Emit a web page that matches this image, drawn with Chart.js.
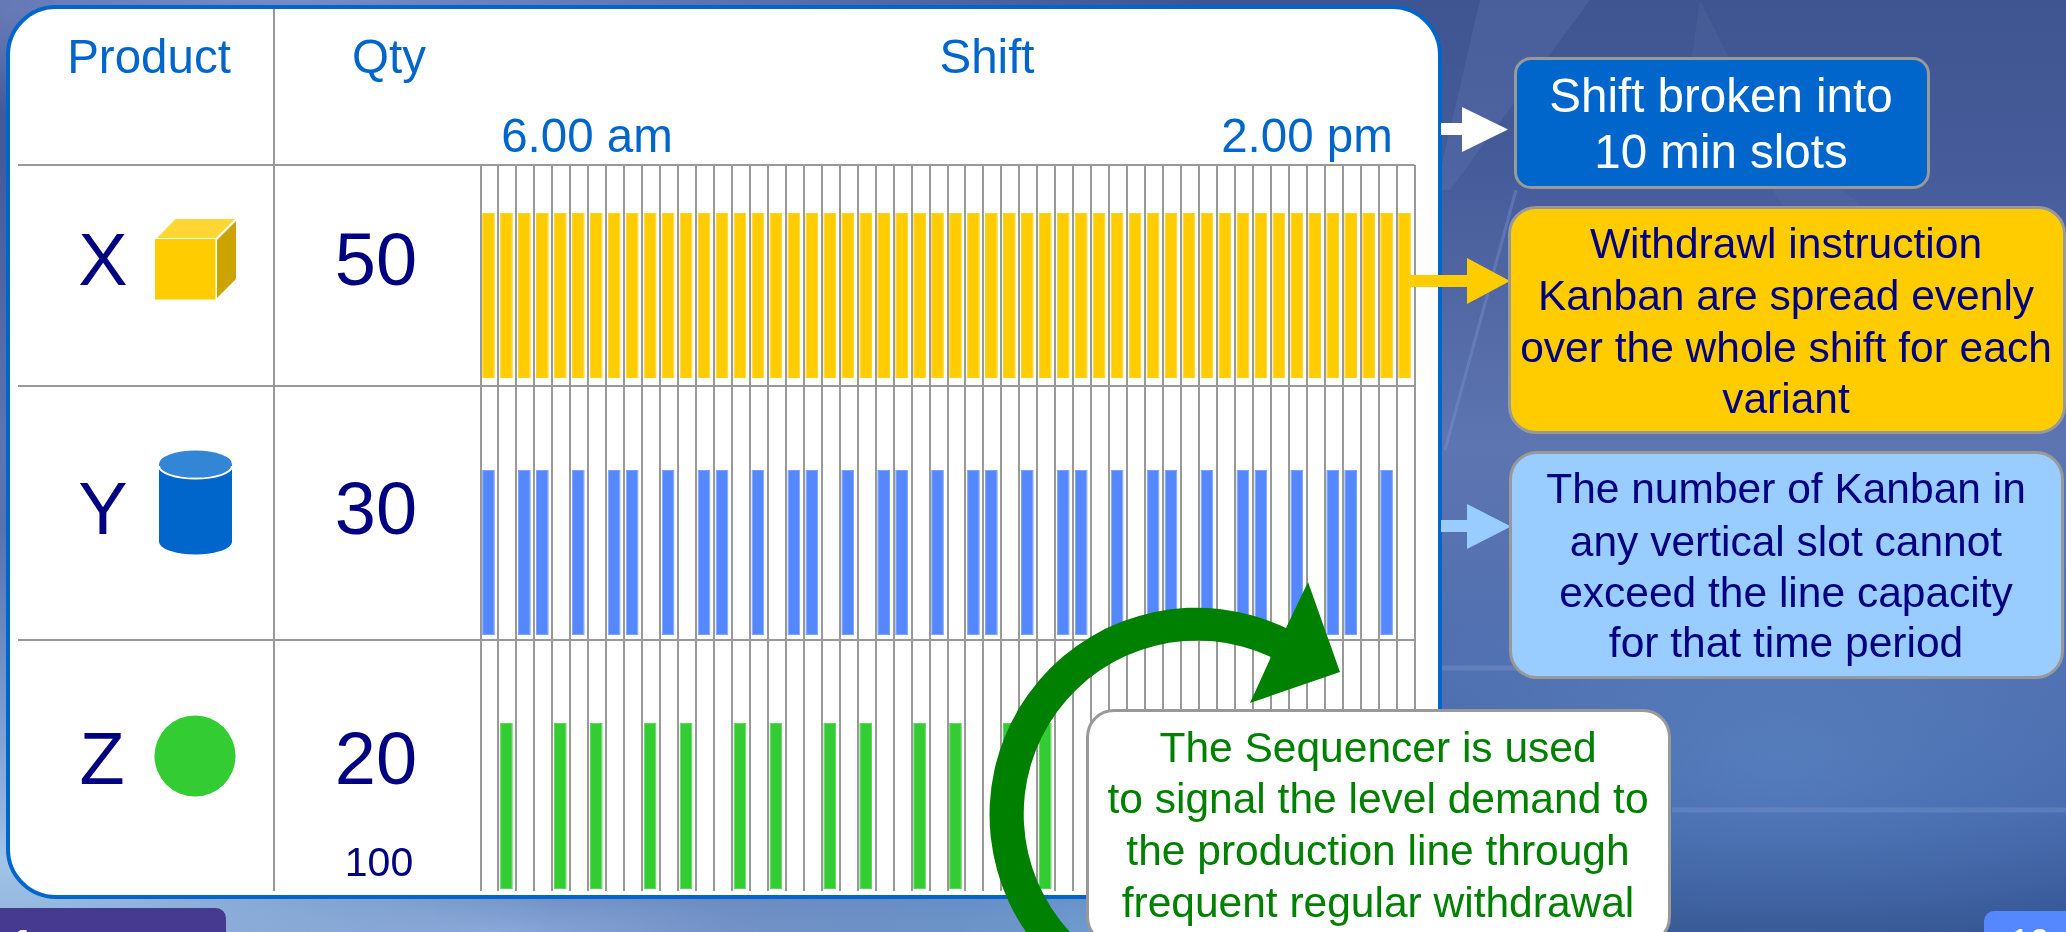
<!DOCTYPE html>
<html>
<head>
<meta charset="utf-8">
<title>Kanban sequencer</title>
<script src="https://cdn.jsdelivr.net/npm/chart.js@4/dist/chart.umd.min.js"></script>
<style>
html,body{margin:0;padding:0;width:2066px;height:932px;overflow:hidden}
#stage{position:relative;width:2066px;height:932px;overflow:hidden;font-family:"Liberation Sans",Arial,sans-serif;
background:
 radial-gradient(ellipse 420px 150px at 1130px 940px,rgba(125,175,225,.75),transparent),
 radial-gradient(ellipse 560px 330px at 0px 860px,rgba(165,200,235,.95),transparent),
 radial-gradient(ellipse 900px 130px at 500px 932px,rgba(135,165,215,1),transparent),
 radial-gradient(ellipse 900px 120px at 300px 0px,rgba(125,145,205,.9),transparent),
 radial-gradient(ellipse 420px 200px at 1780px 760px,rgba(95,140,200,.55),transparent),
 linear-gradient(180deg,#3f5592 0,#465c9a 18%,#5d75b1 48%,#4f6fb0 72%,#4466aa 88%,#365793 100%);}
#panel{position:absolute;left:6px;top:5px;width:1428px;height:886px;border:4px solid #0066cc;border-radius:50px;background:#fff}
.abs{position:absolute}
.line{position:absolute;background:#999}
.t{position:absolute;white-space:pre;line-height:1.117;transform:translateX(-50%)}
.box{position:absolute;box-sizing:border-box;border:3px solid #999}
canvas{position:absolute;left:0;top:0}
svg{position:absolute;left:0;top:0}
</style>
</head>
<body>
<div id="stage">
  <svg id="streaks" width="2066" height="932">
    <polygon points="1480,0 1590,0 1450,190 1436,190" fill="#6d84bd" opacity=".22"/>
    <polygon points="1700,0 1760,120 1890,230 1800,230 1690,70" fill="#5a71aa" opacity=".22"/>
    <line x1="1516" y1="190" x2="1445" y2="450" stroke="#8aa2d6" stroke-width="3" opacity=".3"/>
    <line x1="1440" y1="668" x2="1520" y2="668" stroke="#8ba0d2" stroke-width="5" opacity=".3"/>
    <line x1="1672" y1="810" x2="2066" y2="810" stroke="#8a9fd2" stroke-width="5" opacity=".3"/>
  </svg>
  <div id="panel"></div>
  <div class="line" style="left:273px;top:9px;width:2px;height:882px"></div>
  <div class="line" style="left:18px;top:164px;width:463px;height:2px"></div>
  <div class="line" style="left:18px;top:385px;width:463px;height:2px"></div>
  <div class="line" style="left:18px;top:639px;width:463px;height:2px"></div>
  <canvas id="chart" width="2066" height="932"></canvas>
  <svg width="2066" height="932" id="shapes">
    <!-- cube -->
    <rect x="155" y="239" width="60.5" height="60.5" fill="#ffcc00"/>
    <polygon points="157,238 175.5,219 235,219 216,238" fill="#ffd633"/>
    <polygon points="217,240 236,221 236,279 217,298" fill="#cca300"/>
    <!-- cylinder -->
    <path d="M159 464 V542 A36.5 12.5 0 0 0 232 542 V464 Z" fill="#0066cc"/>
    <ellipse cx="195.5" cy="464" rx="36.5" ry="13.5" fill="#3385d6"/>
    <path d="M159 466 A36.5 12.5 0 0 0 232 466" fill="none" stroke="#fff" stroke-width="2"/>
    <!-- ball -->
    <circle cx="195" cy="756" r="40.5" fill="#33cc33"/>
    <!-- arrows -->
    <path d="M1441 123 H1462 V107 L1508 129.5 L1462 152 V135 H1441 Z" fill="#fff"/>
    <path d="M1410 275 H1467 V258 L1510 281 L1467 304 V287 H1410 Z" fill="#ffcc00"/>
    <path d="M1441 520 H1467 V504 L1511 526.5 L1467 549 V532 H1441 Z" fill="#99ccff"/>
    <!-- sequencer arrow -->
    <path d="M1026 932 A207 207 0 0 1 1286 628 L1308 582 L1340 672 L1250 703 L1271 657 A173.5 173.5 0 0 0 1070 932 Z" fill="#008000"/>
  </svg>
  <div class="box" style="left:1514px;top:57px;width:416px;height:132px;background:#0066cc;border-radius:17px"></div>
  <div class="box" style="left:1508px;top:206px;width:558px;height:228px;background:#ffcc00;border-radius:28px"></div>
  <div class="box" style="left:1509px;top:451px;width:555px;height:228px;background:#99ccff;border-radius:28px"></div>
  <div class="box" style="left:1086px;top:709px;width:585px;height:236px;background:#fff;border-radius:28px"></div>
  <div class="abs" style="left:0;top:908px;width:226px;height:30px;background:#453a90;border-radius:0 10px 0 0"></div>
  <div class="abs" style="left:1984px;top:911px;width:90px;height:30px;background:#5588ff;border-radius:10px 0 0 0"></div>
  <div id="labels"></div>
</div>
<script>
// ---------- Data ----------
const slotLabels = ["1","2","3","4","5","6","7","8","9","10","11","12","13","14","15","16","17","18","19","20","21","22","23","24","25","26","27","28","29","30","31","32","33","34","35","36","37","38","39","40","41","42","43","44","45","46","47","48","49","50","51","52"];
const products = ["X","Y","Z"];
const quantities = ["50","30","20"];
const totalQty = "100";
const kanbanX = [1,1,1,1,1,1,1,1,1,1,1,1,1,1,1,1,1,1,1,1,1,1,1,1,1,1,1,1,1,1,1,1,1,1,1,1,1,1,1,1,1,1,1,1,1,1,1,1,1,1,1,1];
const kanbanY = [1,0,1,1,0,1,0,1,1,0,1,0,1,1,0,1,0,1,1,0,1,0,1,1,0,1,0,1,1,0,1,0,1,1,0,1,0,1,1,0,1,0,1,1,0,1,0,1,1,0,1,0];
const kanbanZ = [0,1,0,0,1,0,1,0,0,1,0,1,0,0,1,0,1,0,0,1,0,1,0,0,1,0,1,0,0,1,0,1,0,0,1,0,1,0,0,1,0,1,0,0,1,0,1,0,0,1,0,0];

// ---------- Vertical layout of the three lanes (scale units) ----------
const laneX = [513,678];
const laneY = [256,421];
const laneZ = [2,168];
const laneBorders = [726,505,251];
const toBars = (flags,lane)=>flags.map(f=>f?lane:null);
const barStyle = (fill,edge)=>({backgroundColor:fill,borderColor:edge,borderWidth:1,borderSkipped:false,grouped:false,barPercentage:0.71,categoryPercentage:1});

const nudgeBars = {
  id:'nudgeBars',
  beforeDatasetsDraw(c){c.ctx.save();c.ctx.translate(-1,0)},
  afterDatasetsDraw(c){c.ctx.restore()}
};

new Chart(document.getElementById('chart').getContext('2d'),{
  type:'bar',
  plugins:[nudgeBars],
  data:{labels:slotLabels,datasets:[
    {label:products[0],data:toBars(kanbanX,laneX),...barStyle('#ffcc00','#ffd21f')},
    {label:products[1],data:toBars(kanbanY,laneY),...barStyle('#5588ff','#7aa2ff')},
    {label:products[2],data:toBars(kanbanZ,laneZ),...barStyle('#33cc33','#5ad65a')}
  ]},
  options:{
    responsive:false,animation:false,
    layout:{padding:{left:480.5,right:651.5,top:165,bottom:41}},
    plugins:{legend:{display:false},tooltip:{enabled:false},title:{display:false}},
    scales:{
      x:{type:'category',offset:true,afterFit:s=>{s.height=0},
         ticks:{display:false},border:{display:false},
         grid:{color:'#999999',lineWidth:2,drawTicks:false,offset:true}},
      y:{type:'linear',min:0,max:726,afterFit:s=>{s.width=0},
         afterBuildTicks:s=>{s.ticks=laneBorders.map(v=>({value:v}))},
         ticks:{display:false},border:{display:false},
         grid:{color:'#999999',lineWidth:2,drawTicks:false}}
    }
  }
});

// ---------- Real text ----------
const host=document.getElementById('labels');
function label(text,cx,base,size,color,weight){
  const d=document.createElement('div');d.className='t';d.textContent=text;
  d.style.cssText=`left:${cx}px;top:${base-size*0.905}px;font-size:${size}px;color:${color};font-weight:${weight||'normal'}`;
  host.appendChild(d);
}
const BLUE='#0066cc',NAVY='#000080',GREEN='#008000';
label('Product',149,73,47.5,BLUE);
label('Qty',389,73,47.5,BLUE);
label('Shift',987,73,47.5,BLUE);
label('6.00 am',587,152,47.5,BLUE);
label('2.00 pm',1307,152,47.5,BLUE);
label(products[0],103,286,74,NAVY);
label(products[1],103,535,74,NAVY);
label(products[2],102,785,74,NAVY);
label(quantities[0],376,286,74,NAVY);
label(quantities[1],376,535,74,NAVY);
label(quantities[2],376,785,74,NAVY);
label(totalQty,379,877,41,NAVY);
[['Shift broken into',112],['10 min slots',168]].forEach(([s,b])=>label(s,1721,b,47.5,'#ffffff'));
[['Withdrawl instruction',258],['Kanban are spread evenly',310],['over the whole shift for each',362],['variant',413]].forEach(([s,b])=>label(s,1786,b,42.5,NAVY));
[['The number of Kanban in',503],['any vertical slot cannot',556],['exceed the line capacity',607],['for that time period',657]].forEach(([s,b])=>label(s,1786,b,42.5,NAVY));
[['The Sequencer is used',762],['to signal the level demand to',813],['the production line through',865],['frequent regular withdrawal',917]].forEach(([s,b])=>label(s,1378,b,42.5,GREEN));
label('f',20,960,40,'#ffffff','bold');
label('i',174,962,40,'#ffffff','bold');
label('19',2030,956,36,'#ffffff');
</script>
</body>
</html>
